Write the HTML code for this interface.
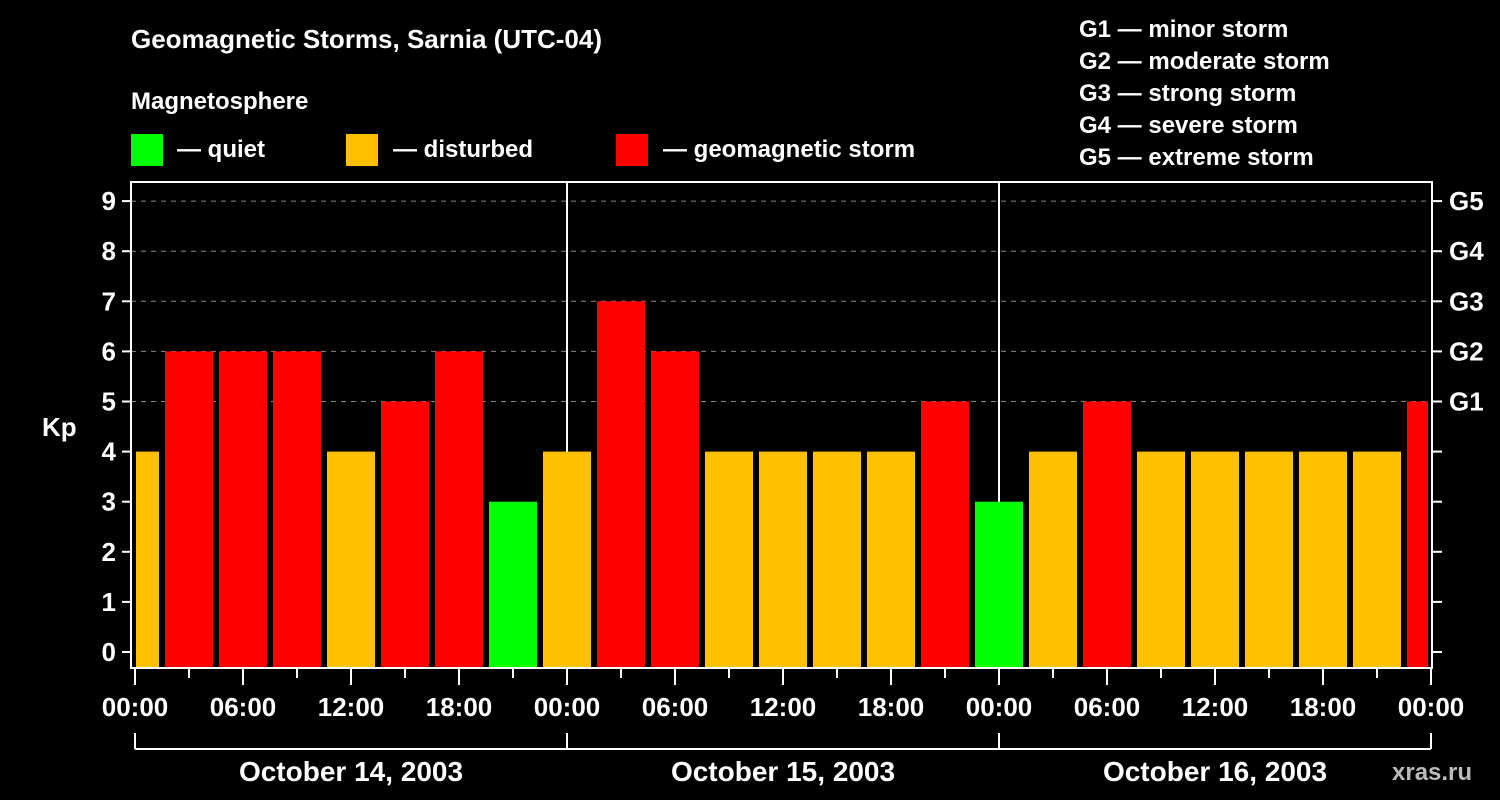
<!DOCTYPE html>
<html><head><meta charset="utf-8"><style>
body{margin:0;background:#000;width:1500px;height:800px;overflow:hidden}
svg{display:block;font-family:"Liberation Sans",sans-serif;font-weight:bold;fill:#fff}
</style></head><body>
<svg id="c" width="1500" height="800">
<text x="131" y="48" font-size="26">Geomagnetic Storms, Sarnia (UTC-04)</text>
<text x="131" y="109" font-size="24">Magnetosphere</text>
<g><rect x="131" y="134" width="32" height="32" fill="#00ff00"/><text x="177" y="157" font-size="24">— quiet</text></g>
<g><rect x="346" y="134" width="32" height="32" fill="#ffc000"/><text x="393" y="157" font-size="24">— disturbed</text></g>
<g><rect x="616" y="134" width="32" height="32" fill="#ff0000"/><text x="663" y="157" font-size="24">— geomagnetic storm</text></g>
<g font-size="24">
<text x="1079" y="37">G1 — minor storm</text>
<text x="1079" y="69">G2 — moderate storm</text>
<text x="1079" y="101">G3 — strong storm</text>
<text x="1079" y="133">G4 — severe storm</text>
<text x="1079" y="165">G5 — extreme storm</text>
</g>
<text x="42" y="436" font-size="26">Kp</text>
<text x="1392" y="780" font-size="24" fill="#bbb" style="fill:#bbb">xras.ru</text>
<g id="plot"></g>
</svg>
<script>
const kpValues=[4,6,6,6,4,5,6,3,4,7,6,4,4,4,4,5,3,4,5,4,4,4,4,4,5];
const yTicks=[0,1,2,3,4,5,6,7,8,9];
const gLabels=["G1","G2","G3","G4","G5"];
const xLabels=["00:00","06:00","12:00","18:00","00:00","06:00","12:00","18:00","00:00","06:00","12:00","18:00","00:00"];
const dateLabels=["October 14, 2003","October 15, 2003","October 16, 2003"];
const L=131,R=1432,T=182,B=668,X0=135,PXH=18;
const y=v=>652-v*50.1;
const x=h=>X0+h*PXH;
const NS="http://www.w3.org/2000/svg";
const g=document.getElementById('plot');
function mk(t,a){const e=document.createElementNS(NS,t);for(const k in a)e.setAttribute(k,a[k]);g.appendChild(e);return e;}
// grid
yTicks.forEach(v=>{
 if(v>=5){const e=mk('line',{x1:L,x2:R,y1:y(v),y2:y(v),stroke:'#888','stroke-dasharray':'5,5','stroke-width':1});
 
 }
 const t=mk('line',{x1:122,x2:L,y1:y(v),y2:y(v),stroke:'#fff','stroke-width':2});
 
 
 const t2=mk('line',{x1:R,x2:1442,y1:y(v),y2:y(v),stroke:'#fff','stroke-width':2});
 
 
 const l=mk('text',{x:116,y:y(v)+9,'text-anchor':'end','font-size':26});l.textContent=v;
 
 
});
gLabels.forEach((s,i)=>{const l=mk('text',{x:1449,y:y(5+i)+9,'font-size':26});l.textContent=s;
 
 });
// day separators
[24,48].forEach(h=>{const e=mk('line',{x1:x(h),x2:x(h),y1:T,y2:B,stroke:'#fff','stroke-width':2});
 
 });
// bars
kpValues.forEach((v,k)=>{
 let x1=x(3*k-1.5)+3,x2=x(3*k+1.5)-3;
 x1=Math.max(x1,136);x2=Math.min(x2,1428);
 const c=v<4?'#00ff00':(v<5?'#ffc000':'#ff0000');
 const r=mk('rect',{x:x1,y:y(v),width:x2-x1,height:B-y(v),fill:c});
 
 
});
// frame
const f=mk('rect',{x:L,y:T,width:R-L,height:B-T,fill:'none',stroke:'#fff','stroke-width':2});


// x ticks
for(let h=0;h<=72;h+=3){const major=h%6==0;
 const e=mk('line',{x1:x(h),x2:x(h),y1:B,y2:major?685:678,stroke:'#fff','stroke-width':2});
 
 }
xLabels.forEach((s,i)=>{const l=mk('text',{x:x(i*6),y:716,'text-anchor':'middle','font-size':26});l.textContent=s;
 
 });
// date brackets
const br=mk('line',{x1:x(0),x2:x(72),y1:749,y2:749,stroke:'#fff','stroke-width':2});


[0,24,48,72].forEach(h=>{const e=mk('line',{x1:x(h),x2:x(h),y1:733,y2:749,stroke:'#fff','stroke-width':2});
 
 });
dateLabels.forEach((s,i)=>{const l=mk('text',{x:x(i*24+12),y:781,'text-anchor':'middle','font-size':28});l.textContent=s;
 
 });
</script>
</body></html>
